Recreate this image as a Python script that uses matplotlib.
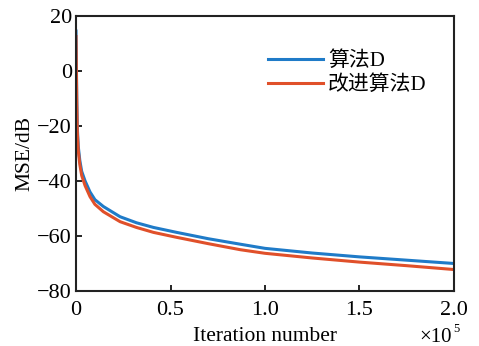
import matplotlib
matplotlib.use("Agg")
import matplotlib.pyplot as plt

# x in units of 1e5 iterations
x_vals = [0.0, 0.002, 0.004, 0.007, 0.012, 0.02, 0.03, 0.048, 0.074, 0.1, 0.145, 0.233, 0.32, 0.41, 0.533, 0.7, 0.87, 1.0, 1.25, 1.5, 1.75, 2.0]
algo_d = [14.5, 2, -10, -21, -27.5, -32.5, -36.5, -40, -44, -46.8, -49.3, -53, -55.2, -56.9, -58.7, -61, -63, -64.5, -66.2, -67.6, -68.8, -70.0]
improved_d = [12.5, 0, -12, -22.5, -29, -34, -38, -41.7, -45.7, -48.5, -51.2, -54.8, -56.9, -58.7, -60.5, -62.8, -65, -66.3, -68, -69.5, -70.8, -72.2]

xticks = [0, 0.5, 1.0, 1.5, 2.0]
xtick_labels = ["0", "0.5", "1.0", "1.5", "2.0"]
yticks = [-80, -60, -40, -20, 0, 20]
ytick_labels = ["\u221280", "\u221260", "\u221240", "\u221220", "0", "20"]
labels = ["算法D", "改进算法D"]
colors = ["#1f7bc8", "#e0502a"]

fams = ["Liberation Serif", "Noto Sans CJK SC"]
plt.rcParams['font.family'] = fams

fig = plt.figure(figsize=(4.79, 3.46), dpi=100)
ax = fig.add_axes([0.1587, 0.159, 0.789, 0.795])

ax.plot(x_vals, algo_d, color=colors[0], lw=2.2, label=labels[0])
ax.plot(x_vals, improved_d, color=colors[1], lw=2.2, label=labels[1])

ax.set_xlim(0, 2.0)
ax.set_ylim(-80, 20)
ax.set_xticks(xticks)
ax.set_xticklabels(xtick_labels)
ax.set_yticks(yticks)
ax.set_yticklabels(ytick_labels)
ax.tick_params(direction='in', length=4, width=1.2, labelsize=16, top=False, right=False)
ax.tick_params(axis='x', pad=7)
ax.tick_params(axis='y', pad=3)
for s in ax.spines.values():
    s.set_linewidth(1.5)
    s.set_color('#222222')

ax.set_xlabel("Iteration number", fontsize=15.5, labelpad=5.5)
ax.set_ylabel("MSE/dB", fontsize=15.5, labelpad=2)
ax.text(0.9947, -0.186, "×10", transform=ax.transAxes, fontsize=15, ha='right', va='baseline')
ax.text(0.997, -0.150, "5", transform=ax.transAxes, fontsize=9, ha='left', va='baseline')

leg = ax.legend(loc='upper left', bbox_to_anchor=(0.508, 0.871), frameon=False, fontsize=15,
                handlelength=2.64, handletextpad=0.25, labelspacing=0.2, borderaxespad=0, borderpad=0)

fig.savefig("out.png", dpi=100)
